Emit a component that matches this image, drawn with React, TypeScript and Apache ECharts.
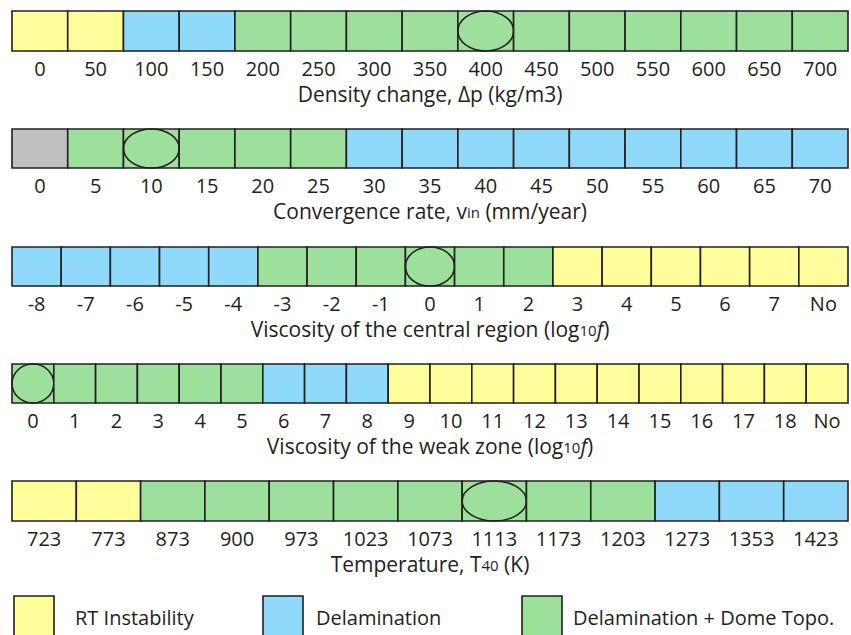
import React, { useEffect, useRef } from 'react';
import * as echarts from 'echarts';

// ---- data ----
const densityLabels = ['0', '50', '100', '150', '200', '250', '300', '350', '400', '450', '500', '550', '600', '650', '700'];
const densityClasses = ['RT', 'RT', 'D', 'D', 'DT', 'DT', 'DT', 'DT', 'DT', 'DT', 'DT', 'DT', 'DT', 'DT', 'DT'];
const densityMarker = '400';

const convergenceLabels = ['0', '5', '10', '15', '20', '25', '30', '35', '40', '45', '50', '55', '60', '65', '70'];
const convergenceClasses = ['N', 'DT', 'DT', 'DT', 'DT', 'DT', 'D', 'D', 'D', 'D', 'D', 'D', 'D', 'D', 'D'];
const convergenceMarker = '10';

const centralLabels = ['-8', '-7', '-6', '-5', '-4', '-3', '-2', '-1', '0', '1', '2', '3', '4', '5', '6', '7', 'No'];
const centralClasses = ['D', 'D', 'D', 'D', 'D', 'DT', 'DT', 'DT', 'DT', 'DT', 'DT', 'RT', 'RT', 'RT', 'RT', 'RT', 'RT'];
const centralMarker = '0';

const weakLabels = ['0', '1', '2', '3', '4', '5', '6', '7', '8', '9', '10', '11', '12', '13', '14', '15', '16', '17', '18', 'No'];
const weakClasses = ['DT', 'DT', 'DT', 'DT', 'DT', 'DT', 'D', 'D', 'D', 'RT', 'RT', 'RT', 'RT', 'RT', 'RT', 'RT', 'RT', 'RT', 'RT', 'RT'];
const weakMarker = '0';

const temperatureLabels = ['723', '773', '873', '900', '973', '1023', '1073', '1113', '1173', '1203', '1273', '1353', '1423'];
const temperatureClasses = ['RT', 'RT', 'DT', 'DT', 'DT', 'DT', 'DT', 'DT', 'DT', 'DT', 'D', 'D', 'D'];
const temperatureMarker = '1113';

const legendKeys = ['RT', 'D', 'DT'];
const legendNames = ['RT Instability', 'Delamination', 'Delamination + Dome Topo.'];

const rowTitles = [
  '{n|Density change, Δp (kg/m3)}',
  '{n|Convergence rate, v}{s|in}{n| (mm/year)}',
  '{n|Viscosity of the central region (log}{s|10}{i|f}{n|)}',
  '{n|Viscosity of the weak zone (log}{s|10}{i|f}{n|)}',
  '{n|Temperature, T}{s|40}{n| (K)}',
];

// ---- styles / layout ----
const COLORS: Record<string, string> = { RT: '#fffd99', D: '#8fd9fb', DT: '#9ce09c', N: '#c0c0c0' };
const EDGE = '#231f20';
const FONT = 'Open Sans';
const rowLayout = [
  { top: 11, height: 40 },
  { top: 129, height: 39 },
  { top: 247, height: 39 },
  { top: 364, height: 39 },
  { top: 481, height: 40 },
];
const legendLayout = [
  { box: 14, text: 75 },
  { box: 263, text: 316 },
  { box: 522, text: 573 },
];

const rows = [
  { labels: densityLabels, classes: densityClasses, marker: densityMarker },
  { labels: convergenceLabels, classes: convergenceClasses, marker: convergenceMarker },
  { labels: centralLabels, classes: centralClasses, marker: centralMarker },
  { labels: weakLabels, classes: weakClasses, marker: weakMarker },
  { labels: temperatureLabels, classes: temperatureClasses, marker: temperatureMarker },
];

export default function App() {
  const ref = useRef<HTMLDivElement>(null);
  useEffect(() => {
    if (!ref.current) return;
    const chart = echarts.init(ref.current, undefined, { renderer: 'svg' });
    const grid: any[] = [];
    const xAxis: any[] = [];
    const yAxis: any[] = [];
    const series: any[] = [];
    rows.forEach((row, r) => {
      const lay = rowLayout[r];
      grid.push({ left: 12, right: 3, top: lay.top, height: lay.height });
      xAxis.push({
        type: 'category',
        gridIndex: r,
        data: row.labels,
        axisLine: { show: false },
        axisTick: { show: false },
        axisLabel: { color: '#231f20', fontSize: 20, fontFamily: FONT, margin: 7, interval: 0 },
        name: rowTitles[r],
        nameLocation: 'middle',
        nameGap: 32,
        nameTextStyle: {
          color: '#231f20',
          fontFamily: FONT,
          rich: {
            n: { fontSize: 21, fontFamily: FONT, color: '#231f20' },
            s: { fontSize: 15, fontFamily: FONT, color: '#231f20', verticalAlign: 'bottom', padding: [0, 0, 2, 0] },
            i: { fontSize: 21, fontFamily: FONT, color: '#231f20', fontStyle: 'italic' },
          },
        },
      });
      yAxis.push({ type: 'value', gridIndex: r, min: 0, max: 1, show: false });
      series.push({
        type: 'custom',
        xAxisIndex: r,
        yAxisIndex: r,
        data: row.labels.map((lab, i) => [i, row.classes[i], lab === row.marker ? 1 : 0]),
        renderItem: (params: any, api: any) => {
          const i = api.value(0);
          const cls = row.classes[i];
          const w = api.size([1, 0])[0];
          const cx = api.coord([i, 0])[0];
          const yTop = api.coord([i, 1])[1];
          const yBot = api.coord([i, 0])[1];
          const h = yBot - yTop;
          const children: any[] = [
            {
              type: 'rect',
              shape: { x: cx - w / 2, y: yTop, width: w, height: h },
              style: { fill: COLORS[cls], stroke: EDGE, lineWidth: 1.6 },
            },
          ];
          if (row.labels[i] === row.marker) {
            children.push({
              type: 'ellipse',
              shape: { cx, cy: yTop + h / 2, rx: w / 2, ry: h / 2 },
              style: { fill: 'none', stroke: EDGE, lineWidth: 1.6 },
            });
          }
          return { type: 'group', children };
        },
      });
    });

    const graphic: any[] = [];
    legendKeys.forEach((k, j) => {
      graphic.push({
        type: 'rect',
        shape: { x: legendLayout[j].box, y: 596, width: 40, height: 50 },
        style: { fill: COLORS[k], stroke: EDGE, lineWidth: 1.6 },
      });
      graphic.push({
        type: 'text',
        x: legendLayout[j].text,
        y: 617,
        style: { text: legendNames[j], fontSize: 20, fontFamily: FONT, fill: '#231f20', verticalAlign: 'middle' },
      });
    });

    chart.setOption({ animation: false, grid, xAxis, yAxis, series, graphic });
    return () => chart.dispose();
  }, []);
  return <div ref={ref} style={{ position: 'fixed', left: 0, top: 0, width: 851, height: 635, background: '#fff' }} />;
}
